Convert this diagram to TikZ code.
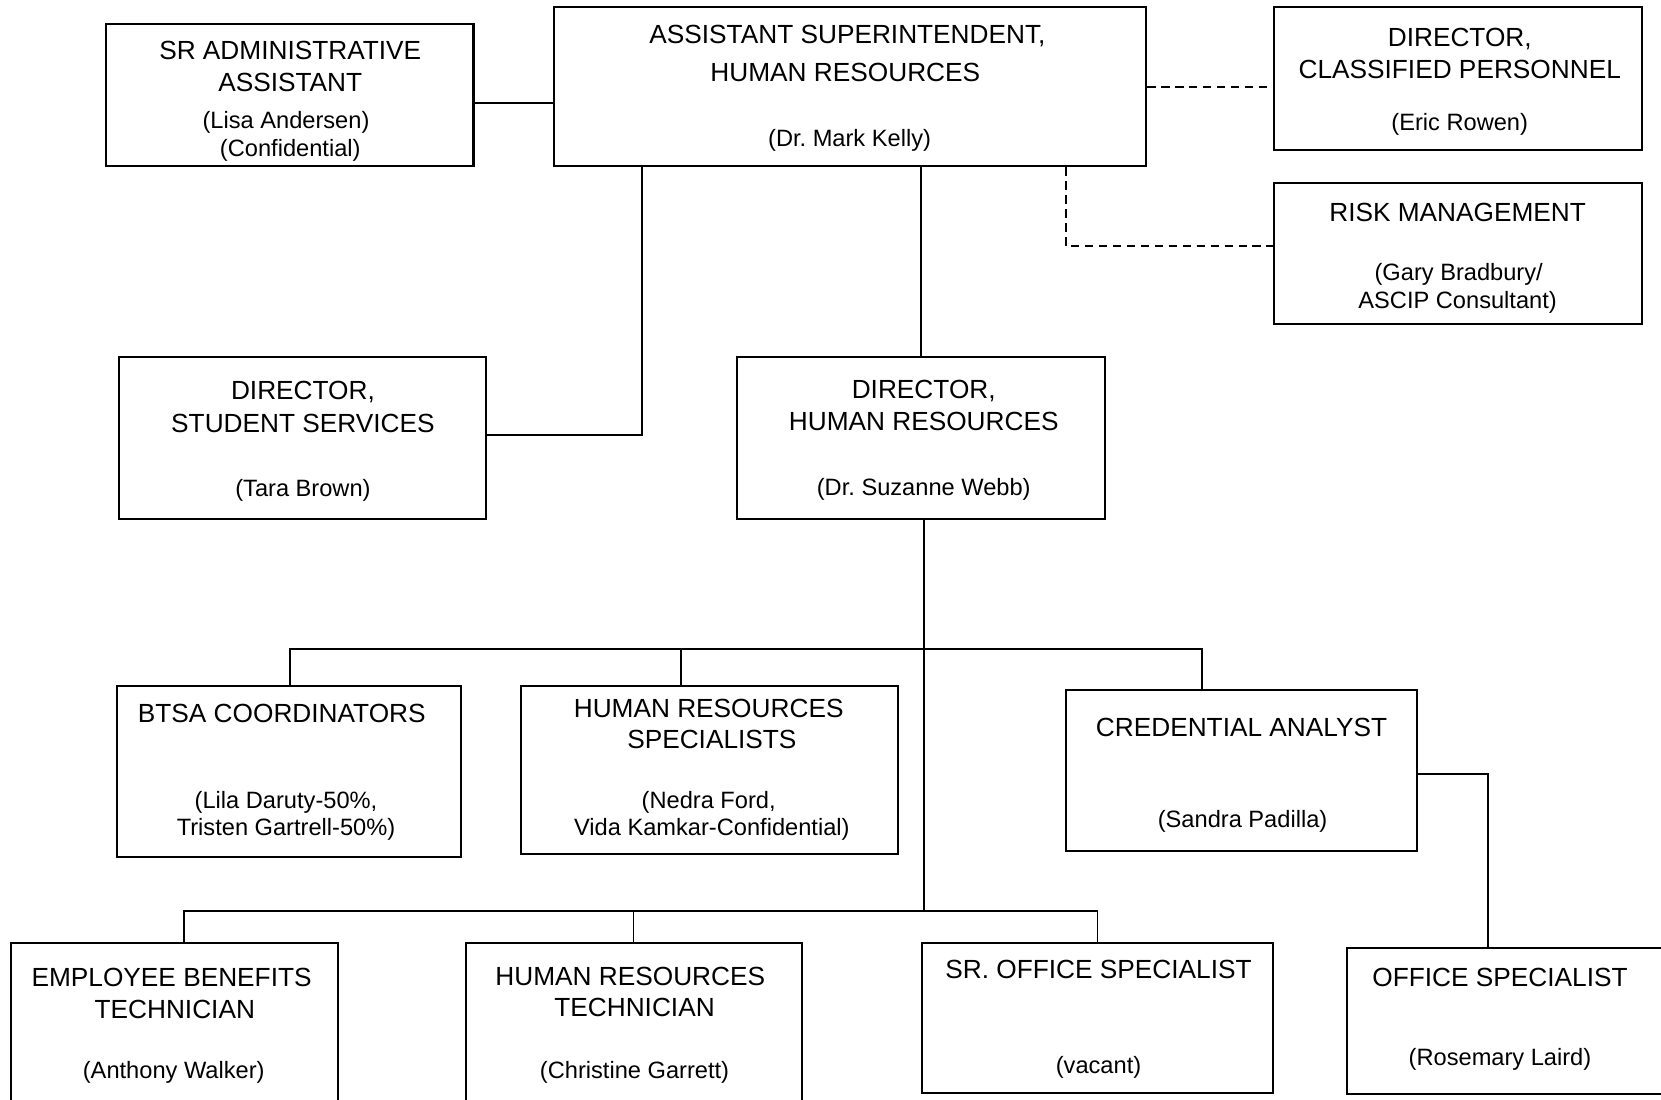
\documentclass[tikz,border=0pt]{standalone}
\usepackage{fontspec}
\setmainfont{Liberation Sans}
\usetikzlibrary{fit}
\frenchspacing
\tikzset{
  post/.style={draw=black, line width=1.1pt, inner sep=0pt},
  ttl/.style={anchor=base, inner sep=0pt, font=\fontsize{14.1}{17}\selectfont},
  who/.style={anchor=base, inner sep=0pt, font=\fontsize{12.7}{15}\selectfont},
  link/.style={draw=black, line width=1pt},
  dotlink/.style={link, dash pattern=on 4.5pt off 3pt}
}
\begin{document}
\begin{tikzpicture}[x=0.02cm, y=-0.02cm]
\clip (0,0) rectangle (1568,1037.5);
\fill[white] (0,0) rectangle (1568,1037.5);
% boxes
\node[post, fit={(100,23) (447,157)}] (sradmin) {};
\node[post, fit={(523,7) (1082,157)}] (asup) {};
\node[post, fit={(1203,7) (1550,142)}] (dircl) {};
\node[post, fit={(1203,173) (1550,306)}] (risk) {};
\node[post, fit={(112,337) (459,490)}] (dirss) {};
\node[post, fit={(696,337) (1043,490)}] (dirhr) {};
\node[post, fit={(110,648) (435,809)}] (btsa) {};
\node[post, fit={(492,648) (848,806)}] (hrspec) {};
\node[post, fit={(1006,651) (1338,803)}] (cred) {};
\node[post, fit={(10,890) (319,1060)}] (ebt) {};
\node[post, fit={(440,890) (757,1060)}] (hrtech) {};
\node[post, fit={(870,890) (1202,1032)}] (sroff) {};
\node[post, fit={(1272,895) (1600,1033)}] (off) {};
% titles and names
\node[ttl] (sradmin-t1) at (274,56) {SR ADMINISTRATIVE};
\node[ttl] (sradmin-t2) at (274,86) {ASSISTANT};
\node[who] (sradmin-n1) at (270,121) {(Lisa Andersen)};
\node[who] (sradmin-n2) at (274,148) {(Confidential)};
\node[ttl] (asup-t1) at (800,41) {ASSISTANT SUPERINTENDENT,};
\node[ttl] (asup-t2) at (798,77) {HUMAN RESOURCES};
\node[who] (asup-n1) at (802,138) {(Dr. Mark Kelly)};
\node[ttl] (dircl-t1) at (1378,44) {DIRECTOR,};
\node[ttl] (dircl-t2) at (1378,74) {CLASSIFIED PERSONNEL};
\node[who] (dircl-n1) at (1378,123) {(Eric Rowen)};
\node[ttl] (risk-t1) at (1376,209) {RISK MANAGEMENT};
\node[who] (risk-n1) at (1377,265) {(Gary Bradbury/};
\node[who] (risk-n2) at (1376,291) {ASCIP Consultant)};
\node[ttl] (dirss-t1) at (286,377) {DIRECTOR,};
\node[ttl] (dirss-t2) at (286,408) {STUDENT SERVICES};
\node[who] (dirss-n1) at (286,469) {(Tara Brown)};
\node[ttl] (dirhr-t1) at (872,376) {DIRECTOR,};
\node[ttl] (dirhr-t2) at (872,406) {HUMAN RESOURCES};
\node[who] (dirhr-n1) at (872,468) {(Dr. Suzanne Webb)};
\node[ttl] (btsa-t1) at (266,682) {BTSA COORDINATORS};
\node[who] (btsa-n1) at (270,763) {(Lila Daruty-50\%,};
\node[who] (btsa-n2) at (270,789) {Tristen Gartrell-50\%)};
\node[ttl] (hrspec-t1) at (669,677) {HUMAN RESOURCES};
\node[ttl] (hrspec-t2) at (672,707) {SPECIALISTS};
\node[who] (hrspec-n1) at (669,763) {(Nedra Ford,};
\node[who] (hrspec-n2) at (672,789) {Vida Kamkar-Confidential)};
\node[ttl] (cred-t1) at (1172,695) {CREDENTIAL ANALYST};
\node[who] (cred-n1) at (1173,781) {(Sandra Padilla)};
\node[ttl] (ebt-t1) at (162,931) {EMPLOYEE BENEFITS};
\node[ttl] (ebt-t2) at (165,961) {TECHNICIAN};
\node[who] (ebt-n1) at (164,1018) {(Anthony Walker)};
\node[ttl] (hrtech-t1) at (595,930) {HUMAN RESOURCES};
\node[ttl] (hrtech-t2) at (599,960) {TECHNICIAN};
\node[who] (hrtech-n1) at (599,1018) {(Christine Garrett)};
\node[ttl] (sroff-t1) at (1037,924) {SR. OFFICE SPECIALIST};
\node[who] (sroff-n1) at (1037,1013) {(vacant)};
\node[ttl] (off-t1) at (1416,931) {OFFICE SPECIALIST};
\node[who] (off-n1) at (1416,1006) {(Rosemary Laird)};
% bus points
\coordinate (busa) at (872,613);
\coordinate (busb) at (872,860);
% connectors
\draw[link] (sradmin.east |- 0,97) -- (asup.west |- 0,97);
\draw[dotlink] (asup.east |- 0,82) -- (dircl.west |- 0,82);
\draw[dotlink] (asup.south -| 1006,0) -- (1006,232) -- (risk.west |- 0,232);
\draw[link] (asup.south -| 606,0) -- (606,411) -- (dirss.east |- 0,411);
\draw[link] (asup.south -| dirhr.north) -- (dirhr.north);
\draw[link] (dirhr.south -| busb) -- (busb);
\draw[link] (btsa.north -| 274,0) -- (274,613) -- (1135,613) -- (cred.north -| 1135,0);
\draw[link] (643,613) -- (hrspec.north -| 643,0);
\draw[link] (ebt.north -| 174,0) -- (174,860) -- (1036,860) -- (sroff.north -| 1036,0);
\draw[link] (598,860) -- (hrtech.north -| 598,0);
\draw[link] (cred.east |- 0,731) -- (1405,731) -- (off.north -| 1405,0);
\end{tikzpicture}
\end{document}
